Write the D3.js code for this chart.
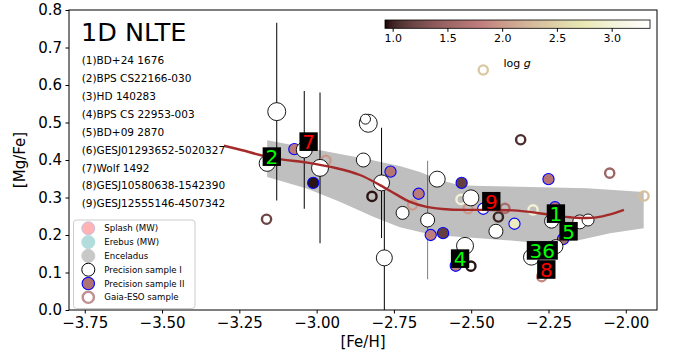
<!DOCTYPE html>
<html>
<head>
<meta charset="utf-8">
<script src="https://cdn.jsdelivr.net/npm/d3@7"></script>
<style>
  body { margin: 0; background: #fff; }
  text { font-family: "DejaVu Sans", sans-serif; }
</style>
</head>
<body>
<svg id="chart" width="681" height="363"></svg>
<script>
// Precision sample I (white circles), with optional error bars
const feI = [-3.129, -3.160, -3.040, -2.989, -2.849, -2.833, -2.842, -2.790, -2.781, -2.722,
  -2.610, -2.641, -2.501, -2.520, -2.420, -2.240, -2.149, -2.122, -2.226, -2.305];
const mgI = [0.529, 0.391, 0.427, 0.379, 0.400, 0.498, 0.509, 0.339, 0.139, 0.259,
  0.349, 0.240, 0.299, 0.171, 0.210, 0.237, 0.235, 0.240, 0.169, 0.141];
const sizeI = [81, 64, 64, 72, 49, 81, 25, 64, 64, 42, 64, 49, 64, 72, 49, 49, 49, 36, 49, 64];
const errI = [0.237, 0, 0.157, 0.201, 0, 0, 0, 0.147, 0.203, 0, 0, 0.158, 0, 0, 0, 0, 0, 0, 0, 0];

// Precision sample II (filled by log g, blue edge)
const feII = [-3.072, -3.011, -2.761, -2.670, -2.531, -2.631, -2.591, -2.550, -2.461, -2.360, -2.250, -2.229, -2.203];
const mgII = [0.429, 0.339, 0.369, 0.310, 0.339, 0.200, 0.205, 0.118, 0.270, 0.230, 0.349, 0.274, 0.189];
const loggII = [1.75, 0.95, 1.7, 1.75, 1.15, 1.8, 1.15, 1.8, 3.2, 2.8, 1.7, 1.7, 1.6];

// Gaia-ESO sample (rings coloured by log g)
const feG = [-3.162, -2.970, -2.821, -2.690, -2.510, -2.501, -2.391, -2.412, -2.340, -2.461,
  -2.052, -1.941, -2.272, -2.533, -2.300];
const mgG = [0.242, 0.399, 0.303, 0.280, 0.270, 0.117, 0.271, 0.248, 0.454, 0.640,
  0.365, 0.304, 0.089, 0.295, 0.267];
const loggG = [1.2, 2.0, 0.95, 2.0, 2.0, 0.95, 1.6, 1.0, 1.05, 2.4, 1.5, 2.3, 1.9, 3.0, 3.0];

// running trend and its scatter band
const feTrend = [-3.30, -3.25, -3.14, -3.03, -2.935, -2.86, -2.795, -2.74, -2.70, -2.644,
  -2.57, -2.46, -2.35, -2.235, -2.16, -2.095, -2.05, -2.006];
const mgTrend = [0.438, 0.428, 0.405, 0.393, 0.378, 0.360, 0.333, 0.307, 0.289, 0.275,
  0.268, 0.267, 0.265, 0.253, 0.246, 0.247, 0.255, 0.267];
const feBand = [-3.160, -3.031, -2.925, -2.850, -2.731, -2.666, -2.601, -2.537, -2.462, -2.310, -2.126, -1.942,
  -1.942, -2.051, -2.149, -2.236, -2.310, -2.462, -2.624, -2.731, -2.817, -2.925, -3.032, -3.160];
const mgBand = [0.453, 0.433, 0.416, 0.405, 0.384, 0.368, 0.347, 0.333, 0.331, 0.328, 0.325, 0.315,
  0.218, 0.205, 0.187, 0.178, 0.181, 0.191, 0.200, 0.221, 0.249, 0.289, 0.324, 0.355];

// labelled stars
const starNames = ["(1)BD+24 1676", "(2)BPS CS22166-030", "(3)HD 140283", "(4)BPS CS 22953-003",
  "(5)BD+09 2870", "(6)GESJ01293652-5020327", "(7)Wolf 1492", "(8)GESJ10580638-1542390",
  "(9)GESJ12555146-4507342"];
const labelText = ["2", "7", "9", "4", "1", "5", "36", "8"];
const labelFe = [-3.145, -3.026, -2.435, -2.536, -2.226, -2.185, -2.270, -2.257];
const labelMg = [0.409, 0.449, 0.290, 0.137, 0.257, 0.210, 0.159, 0.108];
const labelRed = [false, true, true, false, false, false, false, true];

const xTicks = [-3.75, -3.5, -3.25, -3.0, -2.75, -2.5, -2.25, -2.0];
const yTicks = [0, 0.1, 0.2, 0.3, 0.4, 0.5, 0.6, 0.7, 0.8];
const cbTicks = [1.0, 1.5, 2.0, 2.5, 3.0];
const legendNames = ["Splash (MW)", "Erebus (MW)", "Enceladus", "Precision sample I", "Precision sample II", "Gaia-ESO sample"];

const svg = d3.select("#chart");
const x = d3.scaleLinear().domain([-3.801, -1.899]).range([69, 657]);
const y = d3.scaleLinear().domain([0, 0.8]).range([310, 10]);
const loggNorm = d3.scaleLinear().domain([0.93, 3.35]).range([0, 1]).clamp(true);

// matplotlib "pink" colormap: sqrt((2*gray + hot)/3)
function pink(t) {
  const c = (v) => Math.max(0, Math.min(1, v));
  const hr = c(0.0416 + t * (1 - 0.0416) / 0.365);
  const hg = c((t - 0.365) / 0.381);
  const hb = c((t - 0.746) / 0.254);
  const f = (h) => Math.round(255 * Math.sqrt((2 * t + h) / 3));
  return `rgb(${f(hr)},${f(hg)},${f(hb)})`;
}
const loggColor = (g) => pink(loggNorm(g));

const clip = svg.append("defs").append("clipPath").attr("id", "plotclip");
clip.append("rect").attr("x", 69).attr("y", 10).attr("width", 588).attr("height", 300);

const plot = svg.append("g").attr("clip-path", "url(#plotclip)");

// band
plot.append("path")
  .attr("d", d3.line().x((d) => x(d[0])).y((d) => y(d[1]))(feBand.map((f, i) => [f, mgBand[i]])) + "Z")
  .attr("fill", "#bfbfbf");

// error bars
feI.forEach((f, i) => {
  if (!errI[i]) return;
  plot.append("line")
    .attr("x1", x(f)).attr("x2", x(f))
    .attr("y1", y(mgI[i] - errI[i])).attr("y2", y(mgI[i] + errI[i]))
    .attr("stroke", "#000")
    .attr("stroke-opacity", i === 11 ? 0.5 : 1)
    .attr("stroke-width", 1);
});

// Gaia-ESO rings
plot.selectAll("circle.gaia").data(feG).join("circle")
  .attr("class", "gaia")
  .attr("cx", (d) => x(d))
  .attr("cy", (d, i) => y(mgG[i]))
  .attr("r", 4.6)
  .attr("fill", "none")
  .attr("stroke", (d, i) => loggColor(loggG[i]))
  .attr("stroke-width", 2.4);

// Precision II
plot.selectAll("circle.p2").data(feII).join("circle")
  .attr("class", "p2")
  .attr("cx", (d) => x(d))
  .attr("cy", (d, i) => y(mgII[i]))
  .attr("r", 5.6)
  .attr("fill", (d, i) => loggColor(loggII[i]))
  .attr("stroke", "#0000ff")
  .attr("stroke-width", 1.1);

// Precision I
plot.selectAll("circle.p1").data(feI).join("circle")
  .attr("class", "p1")
  .attr("cx", (d) => x(d))
  .attr("cy", (d, i) => y(mgI[i]))
  .attr("r", (d, i) => Math.sqrt(sizeI[i]))
  .attr("fill", "#fff")
  .attr("stroke", "#000")
  .attr("stroke-width", 0.9);

// trend
plot.append("path")
  .datum(feTrend.map((f, i) => [f, mgTrend[i]]))
  .attr("d", d3.line().x((d) => x(d[0])).y((d) => y(d[1])).curve(d3.curveCatmullRom))
  .attr("fill", "none")
  .attr("stroke", "#a52a2a")
  .attr("stroke-width", 2.4);

// star number labels
labelText.forEach((t, i) => {
  const g = plot.append("g");
  const txt = g.append("text")
    .attr("x", x(labelFe[i])).attr("y", y(labelMg[i]) + 7.3)
    .attr("text-anchor", "middle")
    .attr("font-size", 20)
    .attr("fill", labelRed[i] ? "#ff0000" : "#00ff00")
    .text(t);
  const w = txt.node().getComputedTextLength();
  g.insert("rect", "text")
    .attr("x", x(labelFe[i]) - w / 2 - 2.8)
    .attr("y", y(labelMg[i]) - 9.3)
    .attr("width", w + 5.6)
    .attr("height", 18.6)
    .attr("fill", "#000");
});

// axes
const xAxis = svg.append("g").attr("transform", "translate(0,310)")
  .call(d3.axisBottom(x).tickValues(xTicks).tickFormat(d3.format(".2f")).tickSize(3.5).tickPadding(3.5));
const yAxis = svg.append("g").attr("transform", "translate(69,0)")
  .call(d3.axisLeft(y).tickValues(yTicks).tickFormat(d3.format(".1f")).tickSize(3.5).tickPadding(3.5));
[xAxis, yAxis].forEach((a) => {
  a.select(".domain").remove();
  a.selectAll("text").attr("font-size", 15).attr("fill", "#000").style("font-family", "DejaVu Sans");
  a.selectAll("line").attr("stroke", "#000");
});

svg.append("rect").attr("x", 69).attr("y", 10).attr("width", 588).attr("height", 300)
  .attr("fill", "none").attr("stroke", "#000").attr("stroke-width", 1);

svg.append("text").attr("x", 363).attr("y", 347).attr("text-anchor", "middle")
  .attr("font-size", 15).text("[Fe/H]");
svg.append("text").attr("transform", "translate(25,160) rotate(-90)").attr("text-anchor", "middle")
  .attr("font-size", 15).text("[Mg/Fe]");

// title and star list
svg.append("text").attr("x", 81).attr("y", 40.7).attr("font-size", 25.5).text("1D NLTE");
starNames.forEach((s, i) => {
  svg.append("text").attr("x", 81.7).attr("y", 63.8 + i * 17.95)
    .attr("font-size", 10.5).text(s);
});

// legend
const leg = svg.append("g");
leg.append("rect").attr("x", 73.5).attr("y", 220).attr("width", 121.5).attr("height", 88.5)
  .attr("rx", 3).attr("fill", "#fff").attr("fill-opacity", 0.8)
  .attr("stroke", "#cccccc").attr("stroke-width", 1);
const legStyle = [
  { fill: "#ffb3b3", stroke: "#c4c2e4", sw: 1, r: 6.5 },
  { fill: "#b3dcdc", stroke: "#b3dcdc", sw: 1, r: 6.5 },
  { fill: "#c8c8c8", stroke: "#c8c8c8", sw: 1, r: 6.5 },
  { fill: "#fff", stroke: "#000", sw: 1, r: 6.5 },
  { fill: loggColor(1.65), stroke: "#0000ff", sw: 1.1, r: 6.2 },
  { fill: "#fff", stroke: "#c09090", sw: 2.4, r: 5.6 }
];
legendNames.forEach((n, i) => {
  const yy = 228.3 + i * 13.8;
  leg.append("circle").attr("cx", 88.3).attr("cy", yy).attr("r", legStyle[i].r)
    .attr("fill", legStyle[i].fill).attr("stroke", legStyle[i].stroke).attr("stroke-width", legStyle[i].sw);
  leg.append("text").attr("x", 104.3).attr("y", yy + 3).attr("font-size", 8.6).text(n);
});

// colorbar
const cb = d3.scaleLinear().domain([0.93, 3.35]).range([385, 650]);
const grad = svg.select("defs").append("linearGradient").attr("id", "pinkgrad");
d3.range(0, 1.0001, 0.02).forEach((t) => {
  grad.append("stop").attr("offset", `${t * 100}%`).attr("stop-color", pink(t));
});
svg.append("rect").attr("x", 385).attr("y", 20).attr("width", 265).attr("height", 8.3)
  .attr("fill", "url(#pinkgrad)").attr("stroke", "#000").attr("stroke-width", 0.8);
const cbAxis = svg.append("g").attr("transform", "translate(0,28.3)")
  .call(d3.axisBottom(cb).tickValues(cbTicks).tickFormat(d3.format(".1f")).tickSize(3.5).tickPadding(2.5));
cbAxis.select(".domain").remove();
cbAxis.selectAll("text").attr("font-size", 11).attr("fill", "#000").style("font-family", "DejaVu Sans");
cbAxis.selectAll("line").attr("stroke", "#000");
const lg = svg.append("text").attr("x", 517).attr("y", 67).attr("text-anchor", "middle").attr("font-size", 11);
lg.append("tspan").text("log ");
lg.append("tspan").attr("font-style", "italic").text("g");
</script>
</body>
</html>
